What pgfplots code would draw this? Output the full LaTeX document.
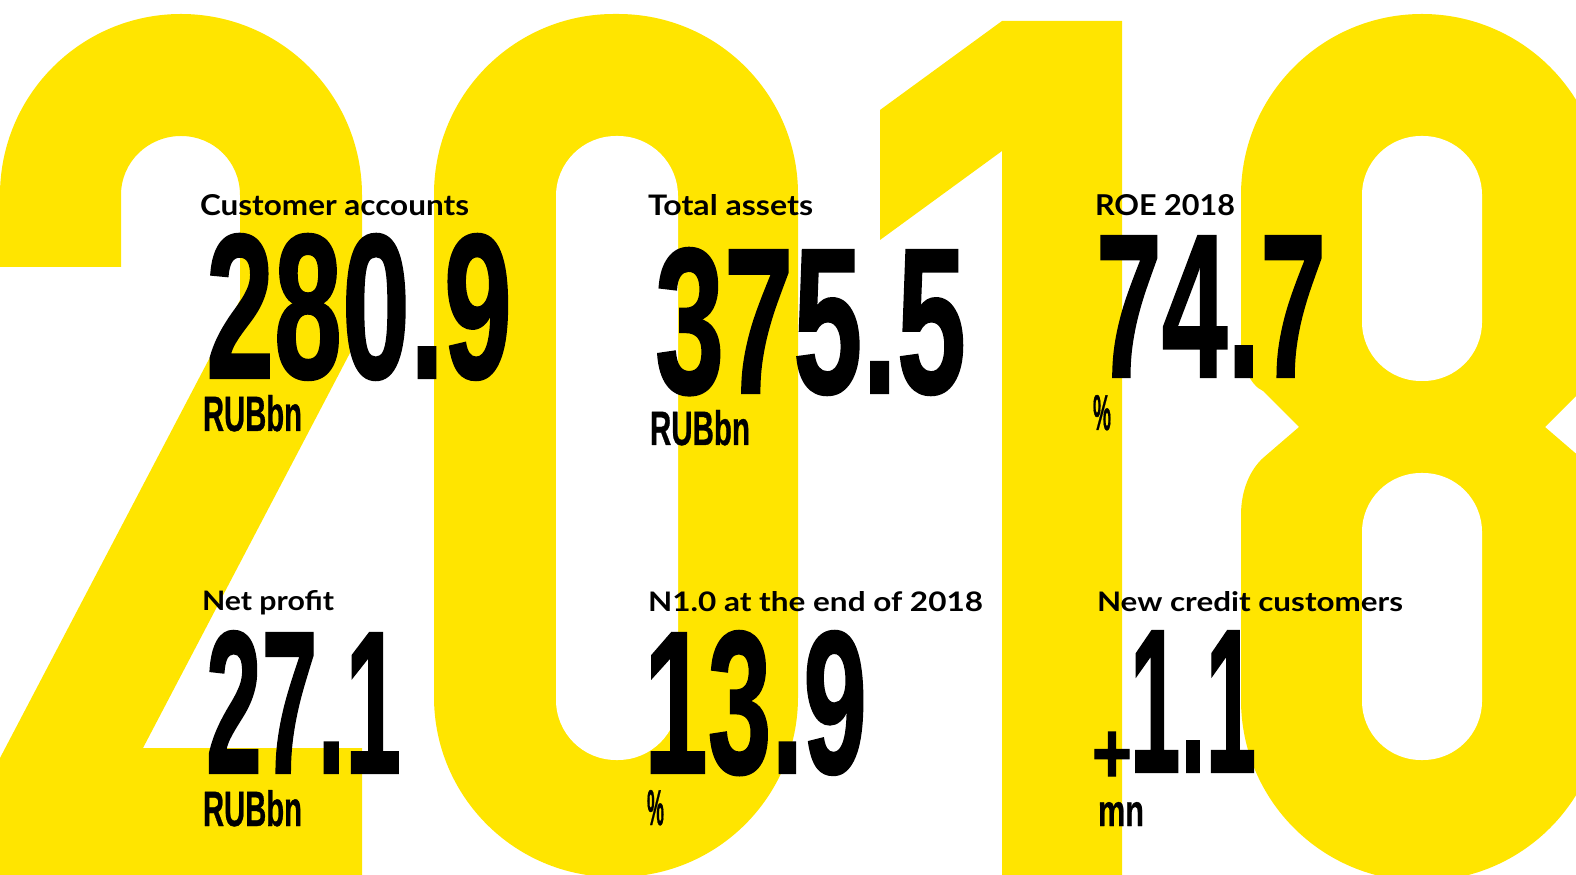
\documentclass[border=0pt]{standalone}
\usepackage{pgfplots}
\pgfplotsset{compat=1.18}
\usepackage{graphicx}
\usepackage{fontspec}
\setmainfont{Liberation Sans}
\newfontfamily\labfont{Lato}
\newfontfamily\numfont[BoldFeatures={FakeBold=1.2}]{Liberation Sans}
\newfontfamily\unitfont[BoldFeatures={FakeBold=0.8}]{Liberation Sans}
\definecolor{ylw}{RGB}{255,229,0}
% #1 x (left), #2 y (baseline), #3 width cm, #4 height cm, #5 font, #6 text
\newcommand\T[6]{\node[anchor=base west,inner sep=0pt,outer sep=0pt] at (axis cs:#1,#2) {\resizebox{#3cm}{#4cm}{#5#6}};}
\begin{document}
\begin{tikzpicture}
\begin{axis}[
  width=15.76cm, height=8.75cm, scale only axis,
  xmin=0, xmax=1576, ymin=0, ymax=875, y dir=reverse,
  hide axis, clip=true]
% ---- big yellow "2018" ----
% 2
\fill[ylw] (0,880) -- (0,758) -- (240,300) -- (240,195)
  .. controls (240,162) and (214,136) .. (181,136)
  .. controls (148,136) and (121,162) .. (121,195)
  -- (121,267) -- (0,267) -- (0,195)
  .. controls (0,95) and (81,14) .. (181,14)
  .. controls (281,14) and (362,95) .. (362,195)
  -- (362,330) -- (143,748) -- (362,748) -- (362,880) -- cycle;
% 0
\fill[ylw, rounded corners=1.8cm] (434,14) rectangle (798,877);
\fill[white, rounded corners=0.6cm] (556,136) rectangle (678,760);
% 1
\fill[ylw] (880,110) -- (1002,21) -- (1122,21) -- (1122,880) -- (1002,880) -- (1002,151) -- (880,240) -- cycle;
% 8
\fill[ylw] (1241,195) .. controls (1241,95) and (1322,14) .. (1422,14)
  .. controls (1522,14) and (1603,95) .. (1603,195)
  -- (1603,340) .. controls (1603,365) and (1594,385) .. (1581,391)
  -- (1545,427) -- (1581,458) .. controls (1594,470) and (1603,490) .. (1603,515)
  -- (1603,700) .. controls (1603,800) and (1522,881) .. (1422,881)
  .. controls (1322,881) and (1241,800) .. (1241,700)
  -- (1241,515) .. controls (1241,490) and (1250,470) .. (1263,458)
  -- (1299,427) -- (1263,391) .. controls (1250,385) and (1241,365) .. (1241,340) -- cycle;
\fill[white, rounded corners=0.59cm] (1362,136) rectangle (1482,381);
\fill[white, rounded corners=0.59cm] (1362,473) rectangle (1482,760);
% ---- labels ----
\T{200}{216}{2.69}{0.21}{\labfont\bfseries}{Customer accounts}
\T{648}{216}{1.65}{0.21}{\labfont\bfseries}{Total assets}
\T{1095}{216}{1.40}{0.21}{\labfont\bfseries}{ROE 2018}
\T{202}{611}{1.32}{0.20}{\labfont\bfseries}{Net profit}
\T{648}{611}{3.35}{0.20}{\labfont\bfseries}{N1.0 at the end of 2018}
\T{1097}{611}{3.06}{0.20}{\labfont\bfseries}{New credit customers}
% ---- values ----
\T{206}{378}{3.06}{1.44}{\numfont\bfseries}{280.9}
\T{655}{393}{3.11}{1.45}{\numfont\bfseries}{375.5}
\T{1096}{377}{2.30}{1.41}{\numfont\bfseries}{74.7}
\T{206}{773}{1.95}{1.42}{\numfont\bfseries}{27.1}
\T{644}{773}{2.23}{1.42}{\numfont\bfseries}{13.9}
\T{1130}{772}{1.26}{1.41}{\numfont\bfseries}{1.1}
\T{1092}{783}{0.40}{0.51}{\numfont\bfseries}{+}
% ---- units ----
\T{203}{431}{0.99}{0.36}{\unitfont\bfseries}{RUBbn}
\T{650}{445}{1.00}{0.35}{\unitfont\bfseries}{RUBbn}
\T{1093}{430}{0.18}{0.35}{\unitfont\bfseries}{\%}
\T{203}{826}{0.99}{0.36}{\unitfont\bfseries}{RUBbn}
\T{647}{825}{0.17}{0.35}{\unitfont\bfseries}{\%}
\T{1098}{826}{0.46}{0.24}{\unitfont\bfseries}{mn}
\end{axis}
\pgfresetboundingbox
\path[use as bounding box] (current axis.south west) rectangle (current axis.north east);
\end{tikzpicture}
\end{document}
